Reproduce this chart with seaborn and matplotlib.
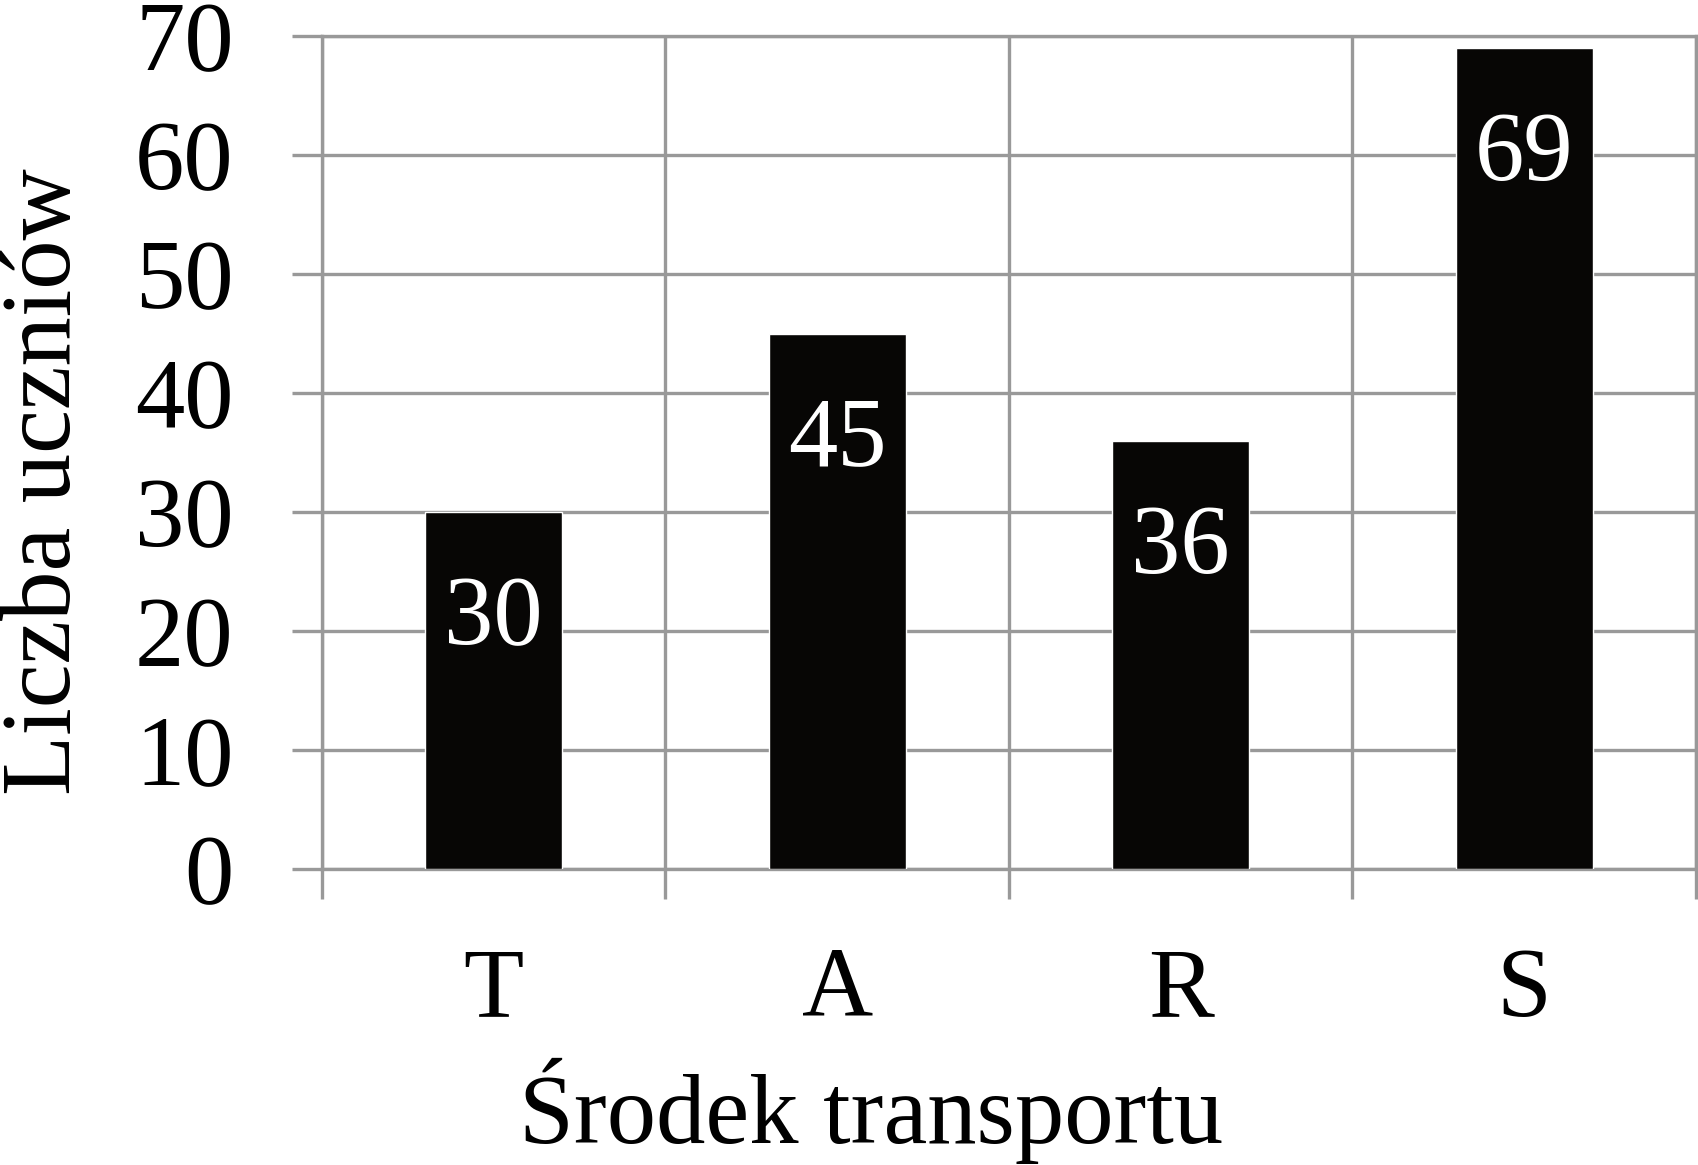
import matplotlib
matplotlib.use("Agg")
import matplotlib.pyplot as plt
import seaborn as sns
import numpy as np

categories = ["T", "A", "R", "S"]
counts = [30, 45, 36, 69]
y_ticks = [0, 10, 20, 30, 40, 50, 60, 70]

sns.set_style("white")
plt.rcParams["font.family"] = ["Liberation Serif", "DejaVu Serif"]
plt.rcParams["text.color"] = "black"
plt.rcParams["axes.labelcolor"] = "black"
plt.rcParams["xtick.labelcolor"] = "black"
plt.rcParams["ytick.labelcolor"] = "black"

grid_col = "#999999"
lw = 2.4
fs = 71

fig = plt.figure(figsize=(16.99, 11.65), dpi=100)
ax = fig.add_axes([322 / 1699, 1 - 869 / 1165, (1696 - 322) / 1699, (869 - 36) / 1165])

sns.barplot(x=categories, y=counts, color="#070605", width=0.4,
            saturation=1, ax=ax, zorder=3)

for i, v in enumerate(counts):
    ax.annotate(str(v), (i, v), xytext=(0, -95), textcoords="offset points",
                ha="center", va="baseline", color="white", fontsize=fs, zorder=4)

ax.set_xlim(-0.5, 3.5)
ax.set_ylim(0, 70)
ax.set_yticks(y_ticks)
ax.set_yticklabels([str(t) for t in y_ticks])
ax.set_xticks(np.arange(-0.5, 4.0, 1.0), minor=True)

ax.grid(True, axis="y", which="major", color=grid_col, linewidth=lw, zorder=0)
ax.grid(True, axis="x", which="minor", color=grid_col, linewidth=lw, zorder=0)
ax.set_axisbelow(True)

for s in ax.spines.values():
    s.set_visible(True)
    s.set_color(grid_col)
    s.set_linewidth(lw)

ax.tick_params(axis="y", which="major", length=21.6, width=lw, color=grid_col,
               labelsize=fs, pad=42, left=True, labelcolor="black")
ax.tick_params(axis="x", which="major", length=0, labelsize=fs, pad=56,
               labelcolor="black")
ax.tick_params(axis="x", which="minor", length=21.6, width=lw, color=grid_col,
               bottom=True)

ax.set_xlabel("Środek transportu", fontsize=71, color="black")
ax.xaxis.set_label_coords(871 / 1699, 1 - 1143 / 1165, transform=fig.transFigure)
ax.xaxis.label.set_va("baseline")

ax.set_ylabel("Liczba uczniów", fontsize=71, color="black")
ax.yaxis.set_label_coords(70 / 1699, 1 - 482 / 1165, transform=fig.transFigure)
ax.yaxis.label.set_va("baseline")

fig.savefig("out.png", dpi=100)
